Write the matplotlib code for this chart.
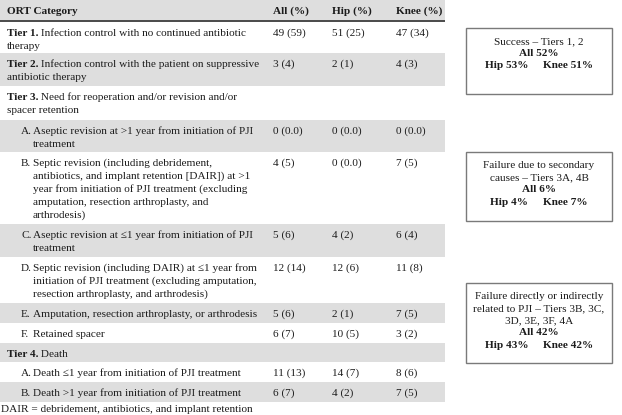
import matplotlib
matplotlib.use("Agg")
import matplotlib.pyplot as plt
from matplotlib.patches import Rectangle

# ---------------- data ----------------
headers = ["ORT Category", "All (%)", "Hip (%)", "Knee (%)"]

# (bold prefix, letter, lines of body text)
row_prefix = ["Tier 1.", "Tier 2.", "Tier 3.", "", "", "", "", "", "", "Tier 4.", "", ""]
row_letter = ["", "", "", "A.", "B.", "C.", "D.", "E.", "F.", "", "A.", "B."]
row_lines = [
    [" Infection control with no continued antibiotic", "therapy"],
    [" Infection control with the patient on suppressive", "antibiotic therapy"],
    [" Need for reoperation and/or revision and/or", "spacer retention"],
    ["Aseptic revision at >1 year from initiation of PJI", "treatment"],
    ["Septic revision (including debridement,",
     "antibiotics, and implant retention [DAIR]) at >1",
     "year from initiation of PJI treatment (excluding",
     "amputation, resection arthroplasty, and",
     "arthrodesis)"],
    ["Aseptic revision at \u22641 year from initiation of PJI", "treatment"],
    ["Septic revision (including DAIR) at \u22641 year from",
     "initiation of PJI treatment (excluding amputation,",
     "resection arthroplasty, and arthrodesis)"],
    ["Amputation, resection arthroplasty, or arthrodesis"],
    ["Retained spacer"],
    [" Death"],
    ["Death \u22641 year from initiation of PJI treatment"],
    ["Death >1 year from initiation of PJI treatment"],
]
all_vals = ["49 (59)", "3 (4)", "", "0 (0.0)", "4 (5)", "5 (6)", "12 (14)", "5 (6)", "6 (7)", "", "11 (13)", "6 (7)"]
hip_vals = ["51 (25)", "2 (1)", "", "0 (0.0)", "0 (0.0)", "4 (2)", "12 (6)", "2 (1)", "10 (5)", "", "14 (7)", "4 (2)"]
knee_vals = ["47 (34)", "4 (3)", "", "0 (0.0)", "7 (5)", "6 (4)", "11 (8)", "7 (5)", "3 (2)", "", "8 (6)", "7 (5)"]

footnote = "DAIR = debridement, antibiotics, and implant retention"

box_titles = [
    ["Success \u2013 Tiers 1, 2"],
    ["Failure due to secondary", "causes \u2013 Tiers 3A, 4B"],
    ["Failure directly or indirectly", "related to PJI \u2013 Tiers 3B, 3C,", "3D, 3E, 3F, 4A"],
]
box_all = ["All 52%", "All 6%", "All 42%"]
box_hip = ["Hip 53%", "Hip 4%", "Hip 43%"]
box_knee = ["Knee 51%", "Knee 7%", "Knee 42%"]

# ---------------- layout ----------------
W, H = 622, 415
fig = plt.figure(figsize=(W / 100, H / 100), dpi=100)
ax = fig.add_axes([0, 0, 1, 1])
ax.set_xlim(0, W)
ax.set_ylim(H, 0)
ax.axis("off")

FONT = "Liberation Serif"
FS = 8.1
TXT = "#1c1c1c"
GRAY = "#dedede"
LINE = 13.0

row_bounds = [(22, 53), (53, 86), (86, 120), (120, 152), (152, 224), (224, 257),
              (257, 303), (303, 323), (323, 343), (343, 362), (362, 382), (382, 402)]
table_right = 445
col_x = [7, 273, 332, 396]

# header
ax.add_patch(Rectangle((0, 0), table_right, 20, facecolor=GRAY, edgecolor="none"))
ax.plot([0, table_right], [20.8, 20.8], color="#4a4a4a", lw=1.4, solid_capstyle="butt")
for x, h in zip(col_x, headers):
    ax.text(x, 14, h, fontsize=FS, family=FONT, weight="bold", color=TXT, va="baseline")

fig.canvas.draw()
renderer = fig.canvas.get_renderer()
inv = ax.transData.inverted()


def data_width(t):
    bb = t.get_window_extent(renderer)
    return inv.transform((bb.x1, 0))[0] - inv.transform((bb.x0, 0))[0]


for i, ((top, bot), pre, let, lines) in enumerate(zip(row_bounds, row_prefix, row_letter, row_lines)):
    if i % 2 == 1:
        ax.add_patch(Rectangle((0, top), table_right, bot - top, facecolor=GRAY, edgecolor="none"))
    base = top + 14
    for j, ln in enumerate(lines):
        y = base + j * LINE
        if j == 0 and pre:
            t = ax.text(7, y, pre, fontsize=FS, family=FONT, weight="bold", color=TXT, va="baseline")
            ax.text(7 + data_width(t), y, ln, fontsize=FS, family=FONT, color=TXT, va="baseline")
        elif let:
            if j == 0:
                ax.text(21, y, let, fontsize=FS, family=FONT, color=TXT, va="baseline")
            ax.text(33, y, ln, fontsize=FS, family=FONT, color=TXT, va="baseline")
        else:
            ax.text(7, y, ln, fontsize=FS, family=FONT, color=TXT, va="baseline")
    for x, v in zip(col_x[1:], (all_vals[i], hip_vals[i], knee_vals[i])):
        if v:
            ax.text(x, base, v, fontsize=FS, family=FONT, color=TXT, va="baseline")

ax.text(1, 412, footnote, fontsize=FS, family=FONT, color=TXT, va="baseline")

# summary boxes
boxes = [(28, 94), (152, 221), (283, 363)]
bx0, bx1 = 466, 612
cx = (bx0 + bx1) / 2
GAP = 15
for (top, bot), titles, a, hp, kn in zip(boxes, box_titles, box_all, box_hip, box_knee):
    ax.add_patch(Rectangle((bx0, top), bx1 - bx0, bot - top, facecolor="white",
                           edgecolor="#7a7a7a", lw=1.0))
    y = top + 16
    for tl in titles:
        ax.text(cx, y, tl, fontsize=FS, family=FONT, color=TXT, ha="center", va="baseline")
        y += 12
    ax.text(cx, y, a, fontsize=FS, family=FONT, weight="bold", color=TXT, ha="center", va="baseline")
    y += 12.5
    th = ax.text(0, y, hp, fontsize=FS, family=FONT, weight="bold", color=TXT, ha="left", va="baseline")
    tk = ax.text(0, y, kn, fontsize=FS, family=FONT, weight="bold", color=TXT, ha="left", va="baseline")
    wh, wk = data_width(th), data_width(tk)
    x0 = cx - (wh + GAP + wk) / 2
    th.set_x(x0)
    tk.set_x(x0 + wh + GAP)

fig.savefig("out.png", dpi=100)
